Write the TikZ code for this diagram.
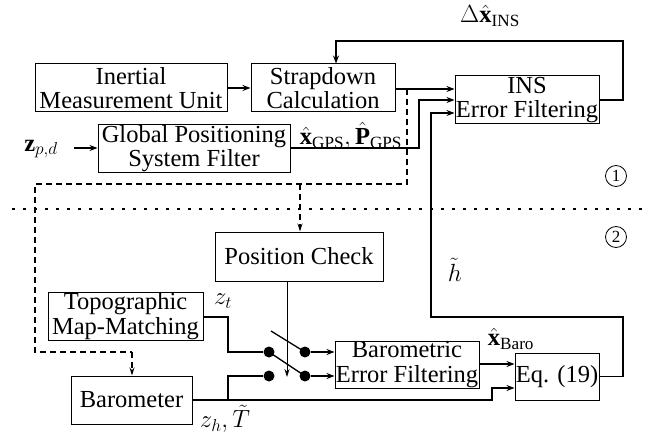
\documentclass[tikz,border=0pt]{standalone}
\usepackage{amsmath}
\usepackage{fontspec}
\setmainfont{Liberation Serif}
\usetikzlibrary{arrows.meta}
\tikzset{
  blk/.style={draw, line width=1pt, inner sep=0pt, align=center, font=\fontsize{24.5}{24.5}\selectfont},
  lbl/.style={inner sep=0pt, font=\fontsize{24.5}{24.5}\selectfont},
  conn/.style={line width=1.3pt},
  arr/.style={line width=1.3pt, -{Stealth[length=8pt,width=6pt]}},
  thinarr/.style={line width=0.8pt, -{Stealth[length=8pt,width=5pt]}},
  dsh/.style={line width=1.2pt, dash pattern=on 6pt off 4pt},
  dsharr/.style={line width=1.2pt, dash pattern=on 6pt off 4pt, -{Stealth[length=8pt,width=5pt]}},
  sep/.style={line width=1.2pt, dash pattern=on 2.5pt off 8.5pt},
  dotc/.style={circle, fill, inner sep=0pt, minimum size=11pt},
  circnum/.style={circle, draw, line width=0.8pt, inner sep=0pt, minimum size=21pt, font=\fontsize{17}{17}\selectfont}
}
\begin{document}
\begin{tikzpicture}[x=1pt,y=-1pt]
\useasboundingbox (0,0) rectangle (651,441);
% blocks
\node[blk, minimum width=192pt, minimum height=48pt] (imu) at (131,88) {Inertial\\Measurement Unit};
\node[blk, minimum width=144pt, minimum height=48pt] (sd) at (323,88) {Strapdown\\Calculation};
\node[blk, minimum width=144pt, minimum height=48pt] (ins) at (527,100) {INS\\Error Filtering};
\node[blk, minimum width=192pt, minimum height=48pt] (gps) at (194,148.5) {Global Positioning\\System Filter};
\node[blk, minimum width=168pt, minimum height=49pt] (pc) at (299,256.5) {Position Check};
\node[blk, minimum width=155pt, minimum height=48pt] (topo) at (125.5,316) {Topographic\\Map-Matching};
\node[blk, minimum width=144pt, minimum height=47pt] (bef) at (407,364.5) {Barometric\\Error Filtering};
\node[blk, minimum width=121pt, minimum height=48pt] (baro) at (131.5,400) {Barometer};
\node[blk, minimum width=84pt, minimum height=47pt] (eq) at (557,376.5) {Eq. (19)};
% labels
\node[lbl] (zpd) at (41,149) {$\mathbf{z}_{p,d}$};
\node[lbl] (gpsl) at (351,136) {$\hat{\mathbf{x}}_{\text{GPS}},\hat{\mathbf{P}}_{\text{GPS}}$};
\node[lbl] (dl) at (490,16) {$\Delta\hat{\mathbf{x}}_{\text{INS}}$};
\node[lbl] (hl) at (455,270) {$\tilde{h}$};
\node[lbl] (ztl) at (223,301) {$z_t$};
\node[lbl] (zhl) at (225,419) {$z_h,\tilde{T}$};
\node[lbl] (xbl) at (511,339) {$\hat{\mathbf{x}}_{\text{Baro}}$};
\node[circnum] (c1) at (616,176) {1};
\node[circnum] (c2) at (616,237) {2};
% coordinates
\coordinate (zs) at (74,148);
\coordinate (g1) at (419,148);
\coordinate (fb1) at (623,41);
\coordinate (fb2) at (336,41);
\coordinate (h1) at (623,317);
\coordinate (h2) at (431,317);
\coordinate (h3) at (431,113);
\coordinate (d1) at (407,89);
\coordinate (d2) at (407,184);
\coordinate (d3) at (35,184);
\coordinate (d4) at (35,352);
\coordinate (d5) at (132,352);
\coordinate (d6) at (300,184);
\coordinate (t1) at (228,317);
\coordinate (b1) at (228,400);
\coordinate (b2) at (492,400);
\coordinate (b3) at (492,388);
\coordinate (s0) at (271,331);
\coordinate (p1) at (287,281);
\coordinate (p2) at (287,377);
\coordinate (sepl) at (12,209);
\coordinate (sepr) at (645,209);
\node[dotc] (s1) at (269,352) {};
\node[dotc] (s2) at (305,352) {};
\node[dotc] (s3) at (269,376) {};
\node[dotc] (s4) at (305,376) {};
% top connectors
\draw[arr] (imu.east) -- (sd.west);
\draw[arr] (sd.east |- d1) -- (ins.west |- d1);
\draw[arr] (zs) -- (gps.west |- zs);
\draw[arr] (gps.east |- g1) -- (g1) |- (ins.west);
\draw[arr] (ins.east) -| (fb1) -- (fb2) -- (fb2 |- sd.north);
\draw[arr] (eq.east) -| (h1) -- (h2) -- (h3) -- (ins.west |- h3);
% dashed
\draw[dsh] (d1) -- (d2) -- (d3) -- (d4) -- (d5);
\draw[dsharr] (d5) -- (baro.north -| d5);
\draw[dsharr] (d6) -- (pc.north -| d6);
\draw[sep] (sepl) -- (sepr);
% bottom connectors
\draw[conn] (topo.east |- t1) -- (t1) |- (s1);
\draw[arr] (baro.east |- b1) -- (b2) -- (b3) -- (eq.west |- b3);
\draw[conn] (b1) |- (s3);
\draw[conn] (s0) -- (s2.center);
\draw[conn] (s1.center) -- (s4.center);
\draw[arr] (s2) -- (bef.west |- s2);
\draw[arr] (s4) -- (bef.west |- s4);
\draw[thinarr] (p1) -- (p2);
\draw[arr] (bef.east |- 0,364) -- (eq.west |- 0,364);
\end{tikzpicture}
\end{document}
